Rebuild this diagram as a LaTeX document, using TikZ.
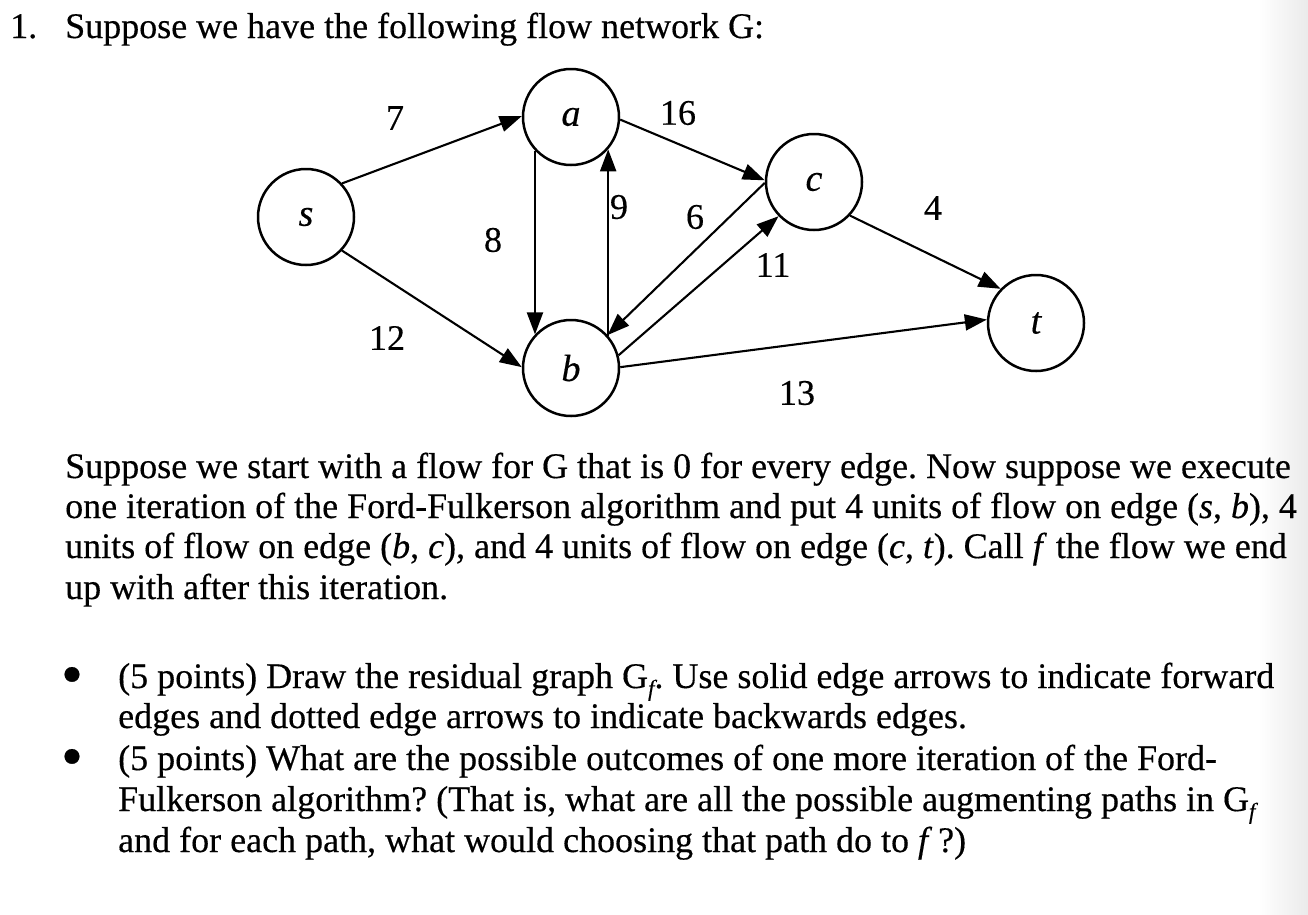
\documentclass[tikz,border=0pt]{standalone}
\usepackage{fontspec}
\setmainfont{Liberation Serif}[UprightFeatures={FakeBold=0.35},ItalicFeatures={FakeBold=0.35}]
\usetikzlibrary{arrows.meta}
\newcommand{\Gsubf}{G\raisebox{-0.22em}{\fontsize{23}{23}\selectfont\itshape f}}
\begin{document}
\frenchspacing
\begin{tikzpicture}[x=1pt,y=-1pt,
  vtx/.style={circle,draw,line width=2.5pt,minimum size=96pt,inner sep=0pt,font=\fontsize{38}{38}\selectfont\itshape},
  edge/.style={line width=2.1pt,-{Triangle[length=22pt,width=16pt]}},
  lbl/.style={font=\fontsize{36}{36}\selectfont,inner sep=0pt},
  txt/.style={anchor=base west,inner sep=0pt,font=\fontsize{36}{40}\selectfont},
  bul/.style={anchor=center,inner sep=0pt,font=\fontsize{62}{62}\selectfont}]
\useasboundingbox (0,0) rectangle (1308,914);
\fill[white] (0,0) rectangle (1308,914);
\shade[left color=white,right color=black!8] (1258,0) rectangle (1308,914);

% title
\node[txt] (num) at (10,38) {1.};
\node[txt] (title) at (65,38) {Suppose we have the following flow network G:};

% graph
\node[vtx] (s) at (306,217) {s};
\node[vtx] (a) at (571,117) {a};
\node[vtx] (b) at (571,368) {b};
\node[vtx] (c) at (814,182) {c};
\node[vtx] (t) at (1036,323) {t};

\draw[edge] (s.43) -- (a.179);
\draw[edge] (s.-43) -- (b.179);
\draw[edge] (a.-137) -- (b.137);
\draw[edge] (b.41) -- (a.-41);
\draw[edge] (a.-3) -- (c.178);
\draw[edge] (c.181) -- (b.42);
\draw[edge] (b.15) -- (c.224);
\draw[edge] (c.-43) -- (t.136);
\draw[edge] (b.1) -- (t.176);

\node[lbl] (l7) at (395,118) {7};
\node[lbl] (l8) at (493,240) {8};
\node[lbl] (l12) at (387,338) {12};
\node[lbl] (l9) at (619,207) {9};
\node[lbl] (l16) at (678,113) {16};
\node[lbl] (l6) at (695,217) {6};
\node[lbl] (l11) at (773,265) {11};
\node[lbl] (l4) at (933,208) {4};
\node[lbl] (l13) at (797,393) {13};

% paragraph
\node[txt] (p1) at (65,478) {Suppose we start with a flow for G that is 0 for every edge. Now suppose we execute};
\node[txt] (p2) at (65,518) {one iteration of the Ford-Fulkerson algorithm and put 4 units of flow on edge (\textit{s}, \textit{b}), 4};
\node[txt] (p3) at (65,558) {units of flow on edge (\textit{b}, \textit{c}), and 4 units of flow on edge (\textit{c}, \textit{t}). Call \textit{f} the flow we end};
\node[txt] (p4) at (65,599) {up with after this iteration.};

% bullets
\node[bul] (b1) at (72,681) {•};
\node[txt] (q1a) at (118,688) {(5 points) Draw the residual graph \Gsubf. Use solid edge arrows to indicate forward};
\node[txt] (q1b) at (118,728) {edges and dotted edge arrows to indicate backwards edges.};
\node[bul] (b2) at (72,763) {•};
\node[txt] (q2a) at (118,770) {(5 points) What are the possible outcomes of one more iteration of the Ford-};
\node[txt] (q2b) at (118,811) {Fulkerson algorithm? (That is, what are all the possible augmenting paths in \Gsubf};
\node[txt] (q2c) at (118,852) {and for each path, what would choosing that path do to \textit{f}\,?)};
\end{tikzpicture}
\end{document}
